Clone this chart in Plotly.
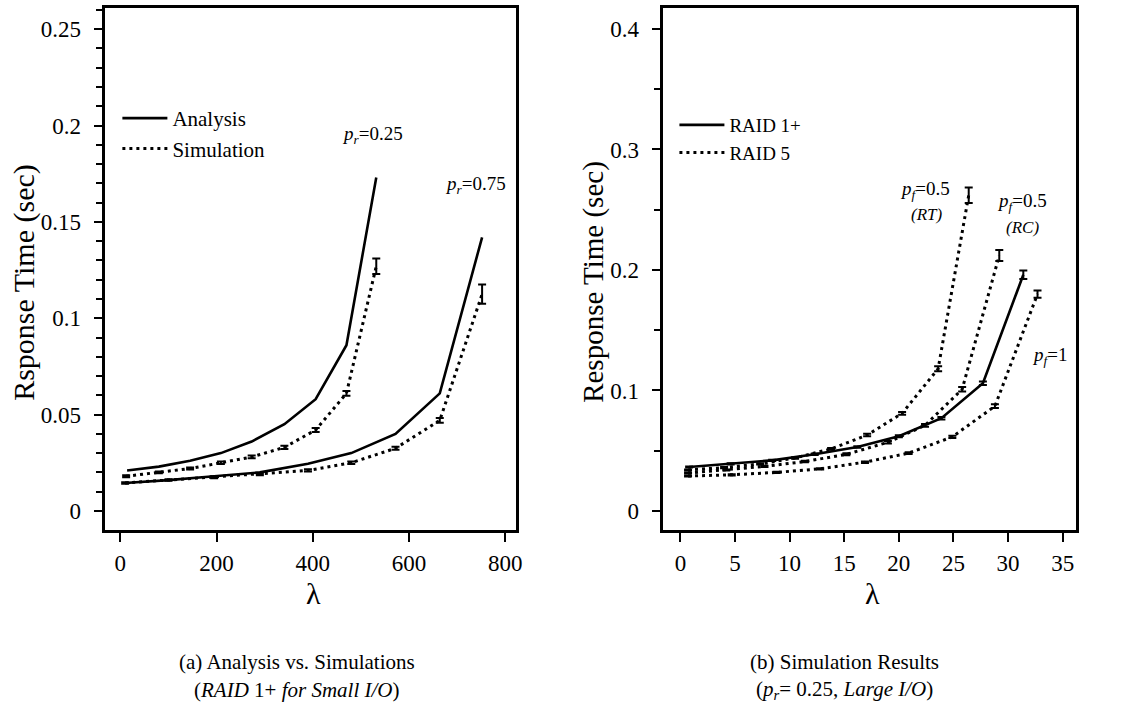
import plotly.graph_objects as go

# ---------------- data: panel (a) ----------------
lam_a25 = [14, 80, 145, 209, 273, 341, 406, 470, 532]
ana_a25 = [0.021, 0.023, 0.026, 0.030, 0.036, 0.045, 0.058, 0.086, 0.173]
lam_s25 = [12, 80, 145, 209, 273, 341, 406, 470, 532]
sim_s25 = [0.018, 0.020, 0.022, 0.025, 0.028, 0.033, 0.042, 0.061, 0.127]
err_s25 = [0.0005, 0.0005, 0.0005, 0.0006, 0.0007, 0.0008, 0.001, 0.0012, 0.004]

lam_75 = [10, 100, 195, 290, 390, 480, 572, 664, 752]
ana_a75 = [0.0145, 0.016, 0.018, 0.020, 0.0245, 0.030, 0.040, 0.061, 0.142]
sim_s75 = [0.0145, 0.016, 0.0175, 0.019, 0.021, 0.025, 0.0325, 0.047, 0.1125]
err_s75 = [0.0004, 0.0004, 0.0005, 0.0005, 0.0006, 0.0007, 0.0008, 0.0012, 0.005]

# ---------------- data: panel (b) ----------------
lam_r1 = [0.8, 4.6, 8.4, 12.3, 16.2, 20.0, 23.9, 27.7, 31.4]
rt_r1 = [0.0365, 0.039, 0.042, 0.047, 0.053, 0.062, 0.077, 0.106, 0.196]
err_r1 = [0.0005, 0.0005, 0.0005, 0.0006, 0.0006, 0.0008, 0.001, 0.0015, 0.0035]

lam_rt = [0.7, 4.0, 7.3, 10.5, 13.8, 17.1, 20.3, 23.6, 26.4]
rt_rt = [0.034, 0.036, 0.039, 0.044, 0.0515, 0.063, 0.081, 0.118, 0.262]
err_rt = [0.0005, 0.0005, 0.0005, 0.0006, 0.0008, 0.001, 0.0012, 0.002, 0.0065]

lam_rc = [0.7, 4.2, 7.7, 11.4, 15.2, 19.0, 22.4, 25.8, 29.2]
rt_rc = [0.0315, 0.034, 0.037, 0.041, 0.047, 0.057, 0.071, 0.101, 0.212]
err_rc = [0.0005, 0.0005, 0.0005, 0.0006, 0.0008, 0.001, 0.0012, 0.0018, 0.0045]

lam_p1 = [0.7, 4.7, 8.8, 12.8, 16.9, 20.9, 24.9, 28.8, 32.7]
rt_p1 = [0.029, 0.030, 0.032, 0.035, 0.0405, 0.048, 0.0615, 0.087, 0.180]
err_p1 = [0.0005, 0.0005, 0.0005, 0.0005, 0.0006, 0.0008, 0.001, 0.0015, 0.003]

xticks_a = [0, 200, 400, 600, 800]
yticks_a = [0, 0.05, 0.1, 0.15, 0.2, 0.25]
xticks_b = [0, 5, 10, 15, 20, 25, 30, 35]
yticks_b = [0, 0.1, 0.2, 0.3, 0.4]

FONT = "Liberation Serif"
SOLID = dict(color="black", width=2.6)
DOTTED = dict(color="black", width=3, dash="3px,4px")


def ebar(arr):
    return dict(type="data", array=arr, visible=True, color="black",
                thickness=2, width=4)


fig = go.Figure()

# panel (a)
fig.add_trace(go.Scatter(x=lam_a25, y=ana_a25, mode="lines", line=SOLID,
                         name="Analysis", legendgroup="ana", showlegend=True,
                         legend="legend", xaxis="x", yaxis="y"))
fig.add_trace(go.Scatter(x=lam_75, y=ana_a75, mode="lines", line=SOLID,
                         name="Analysis", legendgroup="ana", showlegend=False,
                         legend="legend", xaxis="x", yaxis="y"))
fig.add_trace(go.Scatter(x=lam_s25, y=sim_s25, mode="lines", line=DOTTED,
                         error_y=ebar(err_s25),
                         name="Simulation", legendgroup="sim", showlegend=True,
                         legend="legend", xaxis="x", yaxis="y"))
fig.add_trace(go.Scatter(x=lam_75, y=sim_s75, mode="lines", line=DOTTED,
                         error_y=ebar(err_s75),
                         name="Simulation", legendgroup="sim", showlegend=False,
                         legend="legend", xaxis="x", yaxis="y"))

# panel (b)
fig.add_trace(go.Scatter(x=lam_r1, y=rt_r1, mode="lines", line=SOLID,
                         error_y=ebar(err_r1),
                         name="RAID 1+", legendgroup="r1", showlegend=True,
                         legend="legend2", xaxis="x2", yaxis="y2"))
for i, (lx, ly, le) in enumerate([(lam_rt, rt_rt, err_rt),
                                   (lam_rc, rt_rc, err_rc),
                                   (lam_p1, rt_p1, err_p1)]):
    fig.add_trace(go.Scatter(x=lx, y=ly, mode="lines", line=DOTTED,
                             error_y=ebar(le),
                             name="RAID 5", legendgroup="r5",
                             showlegend=(i == 0),
                             legend="legend2", xaxis="x2", yaxis="y2"))

W, H = 1135, 711
axis_common = dict(showgrid=False, zeroline=False, showline=True, mirror=True,
                   linecolor="black", linewidth=2.8, ticks="outside",
                   ticklen=9, tickwidth=2, tickcolor="black",
                   tickfont=dict(family=FONT, size=23, color="black"))

ydom = [1 - 530 / H, 1 - 8 / H]
fig.update_layout(
    width=W, height=H,
    margin=dict(l=0, r=0, t=0, b=0),
    paper_bgcolor="white", plot_bgcolor="white",
    font=dict(family=FONT, color="black"),
    xaxis=dict(domain=[106 / W, 519 / W], range=[-31, 823],
               tickvals=xticks_a, ticklabelstandoff=1, anchor="y", **axis_common),
    yaxis=dict(domain=ydom, range=[-0.0099, 0.261], tickvals=yticks_a,
               ticklabelstandoff=8, anchor="x",
               minor=dict(dtick=0.01, tick0=0, ticks="outside", ticklen=7,
                          tickwidth=2, tickcolor="black"),
               **axis_common),
    xaxis2=dict(domain=[667 / W, 1082 / W], range=[-1.55, 36.25],
                tickvals=xticks_b, ticklabelstandoff=1, anchor="y2", **axis_common),
    yaxis2=dict(domain=ydom, range=[-0.0158, 0.4174], tickvals=yticks_b,
                ticklabelstandoff=8, anchor="x2",
                minor=dict(dtick=0.05, tick0=0, ticks="outside", ticklen=7,
                           tickwidth=2, tickcolor="black"),
                **axis_common),
    legend=dict(x=118 / W, y=1 - 98 / H, xanchor="left", yanchor="top",
                bgcolor="rgba(0,0,0,0)", borderwidth=0, itemwidth=45,
                tracegroupgap=0,
                font=dict(family=FONT, size=21, color="black")),
    legend2=dict(x=678 / W, y=1 - 106 / H, xanchor="left", yanchor="top",
                 bgcolor="rgba(0,0,0,0)", borderwidth=0, itemwidth=45,
                 tracegroupgap=0,
                 font=dict(family=FONT, size=19, color="black")),
)

ann = []
# curve labels, panel (a)
ann.append(dict(x=525, y=0.195, xref="x", yref="y",
                text="<i>p<sub>r</sub></i>=0.25", font=dict(size=19)))
ann.append(dict(x=739, y=0.169, xref="x", yref="y",
                text="<i>p<sub>r</sub></i>=0.75", font=dict(size=19)))
# curve labels, panel (b)
ann.append(dict(x=22.4, y=0.266, xref="x2", yref="y2",
                text="<i>p<sub>f</sub></i>=0.5", font=dict(size=19)))
ann.append(dict(x=22.6, y=0.246, xref="x2", yref="y2",
                text="<i>(RT)</i>", font=dict(size=17)))
ann.append(dict(x=31.3, y=0.256, xref="x2", yref="y2",
                text="<i>p<sub>f</sub></i>=0.5", font=dict(size=19)))
ann.append(dict(x=31.3, y=0.235, xref="x2", yref="y2",
                text="<i>(RC)</i>", font=dict(size=17)))
ann.append(dict(x=33.8, y=0.129, xref="x2", yref="y2",
                text="<i>p<sub>f</sub></i>=1", font=dict(size=19)))
# axis titles
ann.append(dict(x=24 / W, y=1 - 282 / H, xref="paper", yref="paper",
                textangle=-90, text="Rsponse Time (sec)", font=dict(size=30)))
ann.append(dict(x=596 / W, y=1 - 282 / H, xref="paper", yref="paper",
                textangle=-90, text="Response Time (sec)", font=dict(size=29)))
ann.append(dict(x=315 / W, y=1 - 593 / H, xref="paper", yref="paper",
                text="λ", font=dict(size=30)))
ann.append(dict(x=877 / W, y=1 - 593 / H, xref="paper", yref="paper",
                text="λ", font=dict(size=30)))
# captions
ann.append(dict(x=299 / W, y=1 - 662 / H, xref="paper", yref="paper",
                text="(a) Analysis vs. Simulations", font=dict(size=21)))
ann.append(dict(x=299 / W, y=1 - 690 / H, xref="paper", yref="paper",
                text="(<i>RAID</i> 1+ <i>for Small I/O</i>)", font=dict(size=21)))
ann.append(dict(x=849 / W, y=1 - 662 / H, xref="paper", yref="paper",
                text="(b) Simulation Results", font=dict(size=21)))
ann.append(dict(x=849 / W, y=1 - 690 / H, xref="paper", yref="paper",
                text="(<i>p<sub>r</sub></i>= 0.25, <i>Large I/O</i>)",
                font=dict(size=21)))
for a in ann:
    a["font"].update(family=FONT, color="black")
    a.update(showarrow=False, xanchor="center", yanchor="middle")
fig.update_layout(annotations=ann)

fig.write_html("out.html")
